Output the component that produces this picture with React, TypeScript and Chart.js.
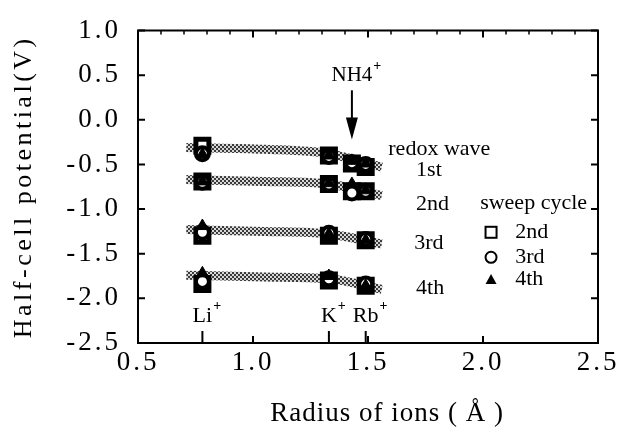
import React, { useEffect, useRef } from "react";
import { Chart, registerables } from "chart.js";

Chart.register(...registerables);

// ---- data ----
const ionLabels = ["Li", "K", "NH4", "Rb"];
const ionRadius = [0.78, 1.33, 1.43, 1.49];

// half-cell potentials per redox wave: [Li, K, NH4, Rb]
const cycle2nd = [
  [-0.29, -0.4, -0.49, -0.53],
  [-0.69, -0.72, -0.8, -0.8],
  [-1.3, -1.3, null, -1.35],
  [-1.84, -1.8, null, -1.86],
];
const cycle3rd = [
  [-0.38, -0.41, -0.48, -0.5],
  [-0.7, -0.72, -0.82, -0.8],
  [-1.26, -1.27, null, -1.34],
  [-1.81, -1.78, null, -1.84],
];
const cycle4th = [
  [-0.39, -0.4, -0.46, -0.49],
  [-0.69, -0.71, -0.72, -0.79],
  [-1.19, -1.28, null, -1.35],
  [-1.72, -1.75, null, -1.86],
];

// shaded trend bands
const bandX = [0.71, 1.05, 1.33, 1.56];
const band1st = [-0.31, -0.33, -0.38, -0.53];
const band2nd = [-0.67, -0.69, -0.72, -0.85];
const band3rd = [-1.23, -1.25, -1.28, -1.39];
const band4th = [-1.74, -1.76, -1.78, -1.9];

const waveLabels = ["1st", "2nd", "3rd", "4th"];
const cycleLabels = ["2nd", "3rd", "4th"];

const X_MIN = 0.5, X_MAX = 2.5, Y_MIN = -2.5, Y_MAX = 1.0;

const FONT = "'Liberation Serif', 'Times New Roman', serif";

function toPoints(rows: (number | null)[][]) {
  const pts: { x: number; y: number }[] = [];
  rows.forEach((row) =>
    row.forEach((v, i) => {
      if (v !== null) pts.push({ x: ionRadius[i], y: v });
    })
  );
  return pts;
}

function bandPoints(ys: number[]) {
  return bandX.map((x, i) => ({ x, y: ys[i] }));
}

function makePattern(): CanvasPattern | string {
  const c = document.createElement("canvas");
  c.width = 4;
  c.height = 4;
  const g = c.getContext("2d");
  if (!g) return "#999";
  g.fillStyle = "#d8d8d8";
  g.fillRect(0, 0, 4, 4);
  g.fillStyle = "#3a3a3a";
  g.fillRect(0, 0, 2, 2);
  g.fillRect(2, 2, 2, 2);
  const p = g.createPattern(c, "repeat");
  return p || "#999";
}

const spacingPlugin = {
  id: "spacing",
  beforeDraw(chart: any) {
    (chart.ctx as any).letterSpacing = "3px";
  },
  beforeDatasetsDraw(chart: any) {
    (chart.ctx as any).letterSpacing = "0px";
  },
};

const decorPlugin = {
  id: "decor",
  afterDraw(chart: any) {
    const { ctx, chartArea } = chart;
    const xs = chart.scales.x;
    const ys = chart.scales.y;
    const px = (v: number) => xs.getPixelForValue(v);
    const py = (v: number) => ys.getPixelForValue(v);
    const { left, right, top, bottom } = chartArea;
    ctx.save();
    (ctx as any).letterSpacing = "0px";
    ctx.strokeStyle = "#000";
    ctx.fillStyle = "#000";
    // frame
    ctx.lineWidth = 2;
    ctx.strokeRect(left, top, right - left, bottom - top);
    // y ticks (left and right, inward)
    ctx.lineWidth = 2;
    for (let v = Y_MIN; v <= Y_MAX + 1e-9; v += 0.5) {
      const y = py(v);
      ctx.beginPath();
      ctx.moveTo(left, y);
      ctx.lineTo(left + 7, y);
      ctx.moveTo(right, y);
      ctx.lineTo(right - 7, y);
      ctx.stroke();
    }
    // top ticks: major 0.5, minor 0.1
    for (let k = 0; k <= 20; k++) {
      const v = X_MIN + k * 0.1;
      const x = px(v);
      const major = k % 5 === 0;
      ctx.lineWidth = major ? 2 : 1.5;
      ctx.beginPath();
      ctx.moveTo(x, top);
      ctx.lineTo(x, top + (major ? 7 : 4));
      ctx.stroke();
    }
    // bottom ticks: major 0.5 and ion positions
    ctx.lineWidth = 2;
    for (let v = X_MIN; v <= X_MAX + 1e-9; v += 0.5) {
      const x = px(v);
      ctx.beginPath();
      ctx.moveTo(x, bottom);
      ctx.lineTo(x, bottom - 7);
      ctx.stroke();
    }
    [0, 1, 3].forEach((i) => {
      const x = px(ionRadius[i]);
      ctx.beginPath();
      ctx.moveTo(x, bottom);
      ctx.lineTo(x, bottom - 12);
      ctx.stroke();
    });

    // ion labels with superscript +
    ctx.textBaseline = "alphabetic";
    const ionLabelY = py(-2.27);
    [0, 1, 3].forEach((i) => {
      const x = px(ionRadius[i]);
      ctx.font = `22px ${FONT}`;
      ctx.textAlign = "center";
      const name = ionLabels[i];
      const w = ctx.measureText(name).width;
      ctx.fillText(name, x, ionLabelY);
      ctx.font = `bold 14px ${FONT}`;
      ctx.textAlign = "left";
      ctx.fillText("+", x + w / 2 + 1, ionLabelY - 12);
    });

    // NH4+ label and arrow
    const ax = px(ionRadius[2]);
    ctx.font = `21px ${FONT}`;
    ctx.textAlign = "center";
    const nh = "NH4";
    const nw = ctx.measureText(nh).width;
    ctx.fillText(nh, ax, py(0.43));
    ctx.font = `bold 14px ${FONT}`;
    ctx.textAlign = "left";
    ctx.fillText("+", ax + nw / 2 + 1, py(0.56));
    const aTop = py(0.33);
    const aTip = py(-0.22);
    ctx.lineWidth = 2;
    ctx.beginPath();
    ctx.moveTo(ax, aTop);
    ctx.lineTo(ax, aTip - 18);
    ctx.stroke();
    ctx.beginPath();
    ctx.moveTo(ax - 6, aTip - 22);
    ctx.lineTo(ax + 6, aTip - 22);
    ctx.lineTo(ax, aTip);
    ctx.closePath();
    ctx.fill();

    // redox wave labels
    ctx.font = `22px ${FONT}`;
    ctx.textAlign = "center";
    ctx.textBaseline = "middle";
    ctx.fillText("redox wave", px(1.81), py(-0.33));
    const waveX = [1.765, 1.78, 1.765, 1.77];
    const waveY = [-0.56, -0.95, -1.38, -1.89];
    waveLabels.forEach((t, i) => ctx.fillText(t, px(waveX[i]), py(waveY[i])));

    // sweep cycle legend
    ctx.fillText("sweep cycle", px(2.22), py(-0.94));
    const legY = [-1.26, -1.54, -1.79];
    const mx = px(2.035);
    ctx.textAlign = "left";
    cycleLabels.forEach((t, i) => {
      const y = py(legY[i]);
      ctx.fillText(t, px(2.14), y);
      ctx.lineWidth = 2;
      if (i === 0) {
        ctx.strokeRect(mx - 5.5, y - 5.5, 11, 11);
      } else if (i === 1) {
        ctx.beginPath();
        ctx.arc(mx, y, 5.5, 0, Math.PI * 2);
        ctx.stroke();
      } else {
        ctx.beginPath();
        ctx.moveTo(mx - 5.5, y + 4.5);
        ctx.lineTo(mx + 5.5, y + 4.5);
        ctx.lineTo(mx, y - 5.5);
        ctx.closePath();
        ctx.fill();
      }
    });

    // axis titles
    ctx.fillStyle = "#000";
    ctx.textAlign = "center";
    ctx.textBaseline = "middle";
    (ctx as any).letterSpacing = "1px";
    ctx.font = `27px ${FONT}`;
    ctx.fillText("Radius of ions ( Å )", (left + right) / 2 + 19, 414);
    ctx.save();
    ctx.translate(24, (top + bottom) / 2);
    ctx.rotate(-Math.PI / 2);
    (ctx as any).letterSpacing = "3.5px";
    ctx.font = `26px ${FONT}`;
    ctx.fillText("Half-cell potential(V)", 0, 0);
    ctx.restore();
    (ctx as any).letterSpacing = "0px";
    ctx.restore();
  },
};

export default function App() {
  const ref = useRef<HTMLCanvasElement | null>(null);
  useEffect(() => {
    if (!ref.current) return;
    const pattern = makePattern();
    const bandDs = (ys: number[]) => ({
      data: bandPoints(ys),
      showLine: true,
      borderColor: pattern as any,
      borderWidth: 9,
      borderCapStyle: "butt" as const,
      pointRadius: 0,
      cubicInterpolationMode: "monotone" as const,
      order: 10,
    });
    const chart = new Chart(ref.current, {
      type: "scatter",
      data: {
        datasets: [
          bandDs(band1st),
          bandDs(band2nd),
          bandDs(band3rd),
          bandDs(band4th),
          {
            label: "2nd",
            data: toPoints(cycle2nd),
            pointStyle: "rect",
            pointRadius: 9.2,
            pointBackgroundColor: "#fff",
            pointBorderColor: "#000",
            pointBorderWidth: 5,
            order: 3,
          },
          {
            label: "3rd",
            data: toPoints(cycle3rd),
            pointStyle: "circle",
            pointRadius: 6.5,
            pointBackgroundColor: "#fff",
            pointBorderColor: "#000",
            pointBorderWidth: 4,
            order: 2,
          },
          {
            label: "4th",
            data: toPoints(cycle4th),
            pointStyle: "triangle",
            pointRadius: 7,
            pointBackgroundColor: "#000",
            pointBorderColor: "#000",
            pointBorderWidth: 1,
            order: 1,
          },
        ],
      },
      options: {
        responsive: false,
        animation: false,
        events: [],
        layout: { padding: { top: 27, right: 23, left: 0, bottom: 0 } },
        plugins: {
          legend: { display: false },
          tooltip: { enabled: false },
        },
        scales: {
          x: {
            type: "linear",
            min: X_MIN,
            max: X_MAX,
            grid: { display: false, drawTicks: false },
            border: { display: false },
            ticks: {
              stepSize: 0.5,
              padding: 6,
              color: "#000",
              font: { family: FONT, size: 27, lineHeight: 1 },
              callback: (v: any) => Number(v).toFixed(1),
            },
            afterFit: (s: any) => {
              s.height = 91;
            },
          },
          y: {
            type: "linear",
            min: Y_MIN,
            max: Y_MAX,
            grid: { display: false, drawTicks: false },
            border: { display: false },
            ticks: {
              stepSize: 0.5,
              padding: 17,
              color: "#000",
              font: { family: FONT, size: 27, lineHeight: 1 },
              callback: (v: any) => Number(v).toFixed(1),
            },
            afterFit: (s: any) => {
              s.width = 138;
            },
          },
        },
      },
      plugins: [spacingPlugin, decorPlugin],
    });
    return () => chart.destroy();
  }, []);
  return (
    <div style={{ position: "fixed", left: 0, top: 0, width: 621, height: 434, background: "#fff" }}>
      <canvas ref={ref} width={621} height={434} style={{ width: 621, height: 434, display: "block" }} />
    </div>
  );
}
